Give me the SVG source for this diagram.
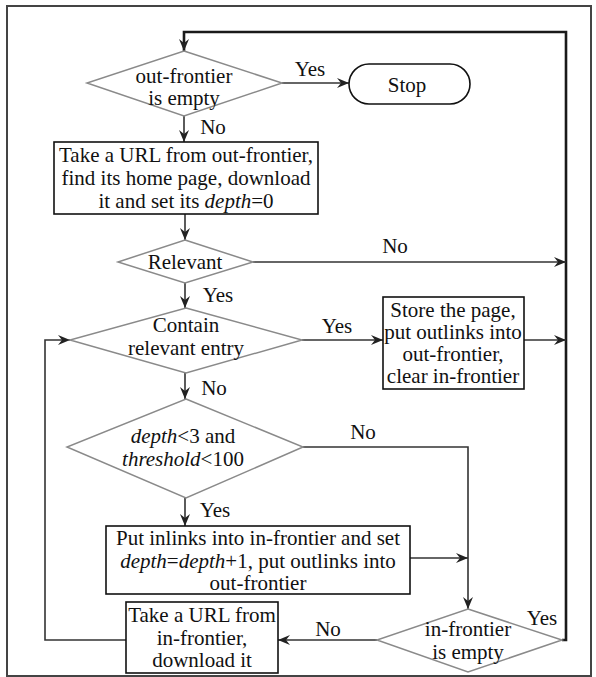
<svg xmlns="http://www.w3.org/2000/svg" width="596" height="677" viewBox="0 0 596 677" font-family="'Liberation Serif', 'DejaVu Serif', serif">
<style>
text{font-family:"Liberation Serif","DejaVu Serif",serif;font-size:21px;fill:#111;text-anchor:middle}
.it{font-style:italic}
.dia{fill:#fff;stroke:#8a8a8a;stroke-width:1.5}
.box{fill:#fff;stroke:#111;stroke-width:1.6}
.con{fill:none;stroke:#333;stroke-width:1.6}
.loop{fill:none;stroke:#1a1a1a;stroke-width:2.6}
</style>
<defs>
<marker id="ah" viewBox="0 0 12 10" refX="12" refY="5" markerWidth="12" markerHeight="10" markerUnits="userSpaceOnUse" orient="auto">
<path d="M0,0 L12,5 L0,10 L4,5 z" fill="#222"/>
</marker>
</defs>
<rect x="0" y="0" width="596" height="677" fill="#fff"/>
<rect x="7" y="6" width="584" height="670" fill="none" stroke="#444" stroke-width="2"/>

<g id="connectors">
<polyline class="loop" points="562,640 566,640 566,32 184,32 184,51" marker-end="url(#ah)"/>
<line class="con" x1="282" y1="83" x2="349" y2="83" marker-end="url(#ah)"/>
<line class="con" x1="184" y1="116" x2="184" y2="142" marker-end="url(#ah)"/>
<line class="con" x1="185" y1="214" x2="185" y2="240" marker-end="url(#ah)"/>
<line class="con" x1="253" y1="262" x2="566" y2="262" marker-end="url(#ah)"/>
<line class="con" x1="185" y1="283" x2="185" y2="308" marker-end="url(#ah)"/>
<line class="con" x1="302" y1="340" x2="383" y2="340" marker-end="url(#ah)"/>
<line class="con" x1="524" y1="340" x2="566" y2="340" marker-end="url(#ah)"/>
<line class="con" x1="185" y1="373" x2="185" y2="399" marker-end="url(#ah)"/>
<polyline class="con" points="303,447 468,447 468,609" marker-end="url(#ah)"/>
<line class="con" x1="185" y1="498" x2="185" y2="526" marker-end="url(#ah)"/>
<line class="con" x1="410" y1="558" x2="468" y2="558" marker-end="url(#ah)"/>
<line class="con" x1="377" y1="640" x2="278" y2="640" marker-end="url(#ah)"/>
<polyline class="con" points="126,640 45,640 45,340 70,340" marker-end="url(#ah)"/>
<text x="310" y="76">Yes</text>
<text x="213" y="134">No</text>
<text x="395" y="253">No</text>
<text x="218" y="302">Yes</text>
<text x="337" y="333">Yes</text>
<text x="214" y="395">No</text>
<text x="363" y="439">No</text>
<text x="215" y="517">Yes</text>
<text x="328" y="636">No</text>
<text x="542" y="625">Yes</text>
</g>

<g id="n_outempty">
<polygon class="dia" points="184,51 282,83 184,116 87,83"/>
<text x="184" y="83">out-frontier</text>
<text x="184" y="105">is empty</text>
</g>
<g id="n_stop">
<rect class="box" x="349" y="64" width="121" height="40" rx="20" ry="20"/>
<text x="407" y="92">Stop</text>
</g>
<g id="n_take_out">
<rect class="box" x="54" y="142" width="264" height="72"/>
<text x="186" y="162">Take a URL from out-frontier,</text>
<text x="186" y="185">find its home page, download</text>
<text x="186" y="208">it and set its <tspan class="it">depth</tspan>=0</text>
</g>
<g id="n_relevant">
<polygon class="dia" points="185,240 253,262 185,283 118,262"/>
<text x="185" y="269">Relevant</text>
</g>
<g id="n_contain">
<polygon class="dia" points="186,308 302,340 186,373 70,340"/>
<text x="186" y="332">Contain</text>
<text x="186" y="355">relevant entry</text>
</g>
<g id="n_store">
<rect class="box" x="383" y="297" width="141" height="92"/>
<text x="453" y="317">Store the page,</text>
<text x="453" y="339">put outlinks into</text>
<text x="453" y="361">out-frontier,</text>
<text x="453" y="383">clear in-frontier</text>
</g>
<g id="n_depth">
<polygon class="dia" points="186,399 303,447 186,498 67,447"/>
<text x="183" y="443"><tspan class="it">depth</tspan>&lt;3 and</text>
<text x="183" y="466"><tspan class="it">threshold</tspan>&lt;100</text>
</g>
<g id="n_put">
<rect class="box" x="106" y="526" width="304" height="68"/>
<text x="258" y="545">Put inlinks into in-frontier and set</text>
<text x="258" y="568"><tspan class="it">depth</tspan>=<tspan class="it">depth</tspan>+1, put outlinks into</text>
<text x="258" y="590">out-frontier</text>
</g>
<g id="n_take_in">
<rect class="box" x="126" y="602" width="152" height="71"/>
<text x="202" y="622">Take a URL from</text>
<text x="202" y="645">in-frontier,</text>
<text x="202" y="667">download it</text>
</g>
<g id="n_inempty">
<polygon class="dia" points="468,609 562,640 468,672 377,640"/>
<text x="468" y="636">in-frontier</text>
<text x="468" y="659">is empty</text>
</g>
</svg>
